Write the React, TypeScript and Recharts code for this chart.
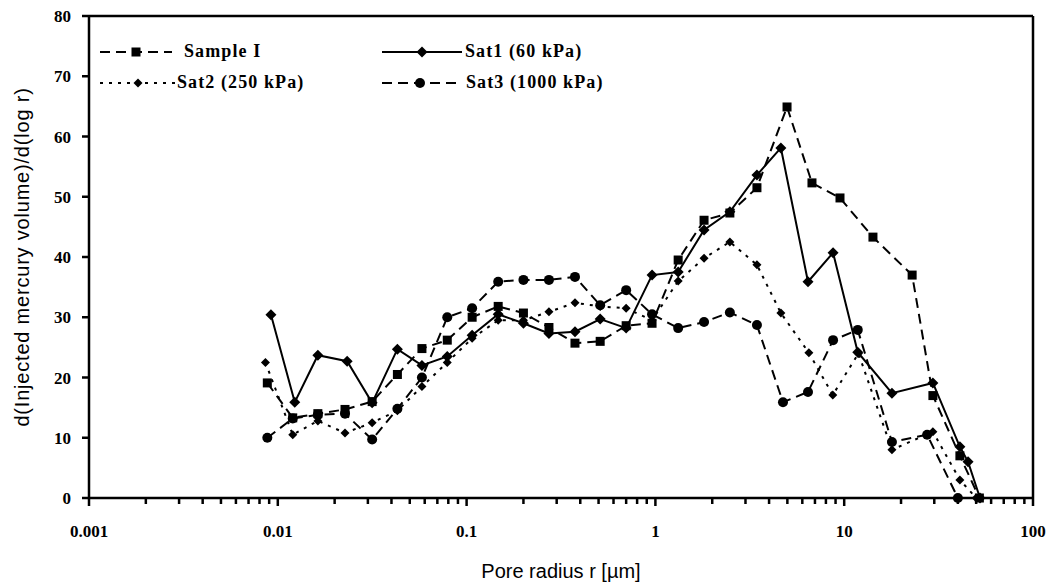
import React from 'react';
import { LineChart, Line, XAxis, YAxis, ReferenceLine, Legend } from 'recharts';

// Pore radius r [µm] and d(V)/d(log r) for each sample
const sampleIR = [0.0088, 0.012, 0.0163, 0.0227, 0.0316, 0.043, 0.058, 0.079, 0.107, 0.147, 0.2, 0.273, 0.375, 0.51, 0.7, 0.96, 1.32, 1.81, 2.48, 3.45, 4.98, 6.75, 9.5, 14.2, 22.9, 29.5, 41, 52];
const sampleIV = [19.1, 13.3, 14.0, 14.7, 16.0, 20.5, 24.8, 26.2, 30.0, 31.8, 30.7, 28.3, 25.7, 26.0, 28.6, 29.0, 39.5, 46.1, 47.3, 51.5, 64.9, 52.3, 49.8, 43.3, 37.0, 17.0, 7.0, 0];

const sat1R = [0.0092, 0.0123, 0.0163, 0.0233, 0.0316, 0.043, 0.058, 0.079, 0.107, 0.147, 0.2, 0.273, 0.375, 0.51, 0.7, 0.96, 1.32, 1.81, 2.48, 3.45, 4.62, 6.43, 8.73, 11.8, 17.9, 29.5, 41, 45.3, 52.4];
const sat1V = [30.4, 15.9, 23.7, 22.7, 15.8, 24.7, 22.0, 23.5, 27.0, 30.5, 29.0, 27.3, 27.6, 29.7, 28.2, 37.0, 37.5, 44.5, 47.5, 53.6, 58.1, 35.9, 40.7, 24.2, 17.4, 19.1, 8.5, 6.0, 0];

const sat2R = [0.0086, 0.012, 0.0163, 0.0227, 0.0316, 0.043, 0.058, 0.079, 0.107, 0.147, 0.2, 0.273, 0.375, 0.51, 0.7, 0.96, 1.32, 1.81, 2.48, 3.45, 4.62, 6.5, 8.7, 11.9, 17.9, 29.5, 41, 50];
const sat2V = [22.5, 10.5, 12.8, 10.8, 12.5, 14.5, 18.5, 22.5, 26.5, 29.5, 29.5, 30.9, 32.4, 31.8, 31.5, 29.5, 36.0, 39.8, 42.5, 38.7, 30.7, 24.1, 17.1, 24.0, 8.0, 11.0, 3.0, 0];

const sat3R = [0.0088, 0.012, 0.0163, 0.0227, 0.0316, 0.043, 0.058, 0.079, 0.107, 0.147, 0.2, 0.273, 0.375, 0.51, 0.7, 0.96, 1.32, 1.81, 2.48, 3.45, 4.74, 6.43, 8.73, 11.8, 17.9, 27.5, 40];
const sat3V = [10.0, 13.2, 13.8, 14.0, 9.7, 14.8, 20.0, 30.0, 31.5, 35.9, 36.2, 36.2, 36.7, 32.0, 34.5, 30.5, 28.2, 29.2, 30.8, 28.7, 15.9, 17.6, 26.2, 27.9, 9.3, 10.5, 0];

const seriesNames = ['Sample I', 'Sat1 (60 kPa)', 'Sat2 (250 kPa)', 'Sat3  (1000 kPa)'];

const majorTicks = [0.001, 0.01, 0.1, 1, 10, 100];
const majorLabels = ['0.001', '0.01', '0.1', '1', '10', '100'];
const minorFactors = [2, 3, 4, 5, 6, 7, 8, 9];
const yTicks = [0, 10, 20, 30, 40, 50, 60, 70, 80];

const xTicks: number[] = [];
majorTicks.forEach((m, i) => {
  xTicks.push(m);
  if (i < majorTicks.length - 1) minorFactors.forEach((f) => xTicks.push(m * f));
});

const pair = (rs: number[], vs: number[]) => rs.map((r, i) => ({ r, v: vs[i] }));
const sampleIData = pair(sampleIR, sampleIV);
const sat1Data = pair(sat1R, sat1V);
const sat2Data = pair(sat2R, sat2V);
const sat3Data = pair(sat3R, sat3V);

type MarkerKind = 'square' | 'diamond' | 'smallDiamond' | 'circle';

const Marker = ({ kind, cx, cy }: { kind: MarkerKind; cx: number; cy: number }) => {
  if (kind === 'square') return <rect x={cx - 4.5} y={cy - 4.5} width={9} height={9} fill="#000" />;
  if (kind === 'circle') return <circle cx={cx} cy={cy} r={5} fill="#000" />;
  const s = kind === 'diamond' ? 5.5 : 4.5;
  return <path d={`M${cx},${cy - s}L${cx + s},${cy}L${cx},${cy + s}L${cx - s},${cy}Z`} fill="#000" />;
};

const dotFor = (kind: MarkerKind, name: string) => (p: any) => {
  if (p.cx == null || p.cy == null) return <g key={`${name}-${p.index}`} />;
  return (
    <g key={`${name}-${p.index}`}>
      <Marker kind={kind} cx={p.cx} cy={p.cy} />
    </g>
  );
};

const serif = '"Liberation Serif", "Times New Roman", serif';
const sans = '"Liberation Sans", Arial, sans-serif';

const XTick = (props: any) => {
  const { x, y, payload } = props;
  const v = payload.value as number;
  const idx = majorTicks.findIndex((m) => Math.abs(m - v) / m < 1e-6);
  const isMajor = idx >= 0;
  return (
    <g>
      <line x1={x} x2={x} y1={y} y2={y + (isMajor ? 8 : 6)} stroke="#000" strokeWidth={2.5} />
      {isMajor && (
        <text x={x} y={y + 39} textAnchor="middle" fontFamily={serif} fontWeight={700} fontSize={17} fill="#000">
          {majorLabels[idx]}
        </text>
      )}
    </g>
  );
};

const legendItems: { kind: MarkerKind; dash?: string; x: number; y: number; x2: number; tx: number }[] = [
  { kind: 'square', dash: '10 6', x: 100, x2: 172, y: 0, tx: 184 },
  { kind: 'diamond', x: 382, x2: 462, y: 0, tx: 465 },
  { kind: 'smallDiamond', dash: '3 6', x: 100, x2: 176, y: 31, tx: 177 },
  { kind: 'circle', dash: '10 6', x: 382, x2: 458, y: 31, tx: 466 },
];

const renderLegend = () => (
  <svg width={640} height={80} style={{ display: 'block' }}>
    {legendItems.map((it, i) => {
      const cy = 22 + it.y;
      return (
        <g key={seriesNames[i]}>
          <line x1={it.x - 90} x2={it.x2 - 90} y1={cy} y2={cy} stroke="#000" strokeWidth={2} strokeDasharray={it.dash} />
          <Marker kind={it.kind} cx={(it.x + it.x2) / 2 - 90} cy={cy} />
          <text x={it.tx - 90} y={cy + 5} fontFamily={serif} fontWeight={700} fontSize={18} letterSpacing={1.1} fill="#000">
            {seriesNames[i]}
          </text>
        </g>
      );
    })}
  </svg>
);

export default function App() {
  return (
    <div style={{ position: 'absolute', left: 0, top: 0, width: 1060, height: 584, background: '#fff' }}>
      <LineChart width={1060} height={584} margin={{ top: 16, right: 27, bottom: 0, left: 0 }}>
        <XAxis
          dataKey="r"
          type="number"
          scale="log"
          domain={[0.001, 100]}
          allowDataOverflow
          ticks={xTicks}
          interval={0}
          tick={<XTick />}
          tickLine={false}
          tickSize={0}
          tickMargin={0}
          axisLine={{ stroke: '#000', strokeWidth: 2.5 }}
          height={86}
          label={{ value: 'Pore radius r [µm]', position: 'insideBottom', offset: 6, fill: '#000', fontFamily: sans, fontSize: 20 }}
        />
        <YAxis
          type="number"
          domain={[0, 80]}
          ticks={yTicks}
          interval={0}
          width={89}
          tickSize={7}
          tickMargin={11}
          tickLine={{ stroke: '#000', strokeWidth: 2.5 }}
          axisLine={{ stroke: '#000', strokeWidth: 2.5 }}
          tick={{ fill: '#000', fontFamily: serif, fontWeight: 700, fontSize: 17 }}
          label={{ value: 'd(Injected mercury volume)/d(log r)', angle: -90, position: 'insideLeft', offset: 22, fill: '#000', fontFamily: sans, fontSize: 20, letterSpacing: 0.8, style: { textAnchor: 'middle' } }}
        />
        <ReferenceLine y={80} stroke="#000" strokeWidth={2.5} />
        <ReferenceLine x={100} stroke="#000" strokeWidth={2.5} />
        <Line data={sampleIData} dataKey="v" name={seriesNames[0]} type="linear" stroke="#000" strokeWidth={2} strokeDasharray="10 6" dot={dotFor('square', 's0')} activeDot={false} isAnimationActive={false} />
        <Line data={sat1Data} dataKey="v" name={seriesNames[1]} type="linear" stroke="#000" strokeWidth={2} dot={dotFor('diamond', 's1')} activeDot={false} isAnimationActive={false} />
        <Line data={sat2Data} dataKey="v" name={seriesNames[2]} type="linear" stroke="#000" strokeWidth={2} strokeDasharray="3 6" dot={dotFor('smallDiamond', 's2')} activeDot={false} isAnimationActive={false} />
        <Line data={sat3Data} dataKey="v" name={seriesNames[3]} type="linear" stroke="#000" strokeWidth={2} strokeDasharray="10 6" dot={dotFor('circle', 's3')} activeDot={false} isAnimationActive={false} />
        <Legend
          layout="horizontal"
          verticalAlign="middle"
          align="center"
          content={renderLegend}
          wrapperStyle={{ left: 90, top: 30, width: 640, height: 80 }}
        />
      </LineChart>
    </div>
  );
}
